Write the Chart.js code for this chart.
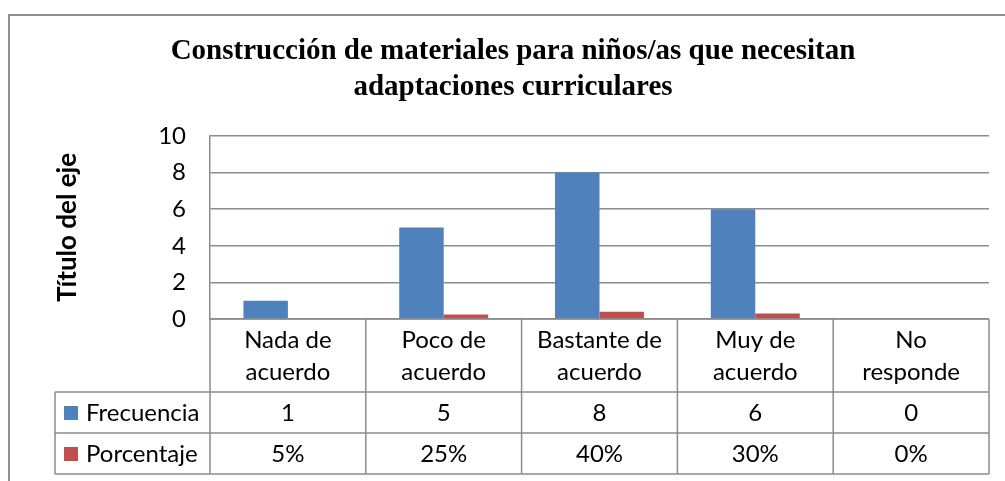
<!DOCTYPE html>
<html>
<head>
<meta charset="utf-8">
<script src="https://cdn.jsdelivr.net/npm/chart.js@4.4.1/dist/chart.umd.min.js"></script>
<style>
  html, body { margin: 0; padding: 0; background: #fff; }
  #wrap { width: 1005px; height: 481px; }
</style>
</head>
<body>
<div id="wrap"><canvas id="chart" width="1005" height="481"></canvas></div>
<script>
const titleLines = ["Construcción de materiales para niños/as que necesitan", "adaptaciones curriculares"];
const categories = [["Nada de", "acuerdo"], ["Poco de", "acuerdo"], ["Bastante de", "acuerdo"], ["Muy de", "acuerdo"], ["No", "responde"]];
const frecuencia = [1, 5, 8, 6, 0];
const porcentaje = [0.05, 0.25, 0.4, 0.3, 0];
const yTicks = [0, 2, 4, 6, 8, 10];

const BLUE = "#4F81BD";
const RED = "#C0504D";
const LINE = "#8C8C8C";
const FONT = "Lato, 'Open Sans', sans-serif";

// frame, title and the data table under the plot
const tablePlugin = {
  id: "excelTable",
  afterDraw: (chart) => {
    const ctx = chart.ctx;
    const x = chart.scales.x;
    const area = chart.chartArea;
    const colW = (area.right - area.left) / categories.length;
    const rowTop = area.bottom;
    const row1 = rowTop + 73;
    const row2 = row1 + 41;
    const row3 = row2 + 41;
    const legendLeft = 55;

    ctx.save();
    // outer frame
    ctx.strokeStyle = "#8f8f8f";
    ctx.lineWidth = 2;
    ctx.beginPath();
    ctx.moveTo(9, 490);
    ctx.lineTo(9, 15);
    ctx.lineTo(1010, 15);
    ctx.stroke();

    // title
    ctx.fillStyle = "#000";
    ctx.font = "bold 29px 'Liberation Serif', 'Times New Roman', serif";
    ctx.textAlign = "center";
    ctx.textBaseline = "middle";
    ctx.fillText(titleLines[0], 513, 52);
    ctx.fillText(titleLines[1], 513, 88);

    // table grid
    ctx.strokeStyle = LINE;
    ctx.lineWidth = 1.5;
    ctx.beginPath();
    [row1, row2, row3].forEach((y) => {
      ctx.moveTo(legendLeft, y);
      ctx.lineTo(area.right, y);
    });
    ctx.moveTo(area.left, rowTop);
    ctx.lineTo(area.right, rowTop);
    for (let i = 0; i <= categories.length; i++) {
      const cx = area.left + i * colW;
      ctx.moveTo(cx, rowTop);
      ctx.lineTo(cx, row3);
    }
    ctx.moveTo(legendLeft, row1);
    ctx.lineTo(legendLeft, row3);
    ctx.stroke();

    // category labels and values
    ctx.fillStyle = "#000";
    ctx.font = "24px " + FONT;
    ctx.textAlign = "center";
    categories.forEach((lines, i) => {
      const cx = x.getPixelForValue(i);
      ctx.fillText(lines[0], cx, rowTop + 21);
      ctx.fillText(lines[1], cx, rowTop + 53);
      ctx.fillText(String(frecuencia[i]), cx, row1 + 21);
      ctx.fillText(Math.round(porcentaje[i] * 100) + "%", cx, row2 + 21);
    });

    // legend keys
    ctx.textAlign = "left";
    chart.data.datasets.forEach((ds, i) => {
      const y = row1 + i * 41 + 21;
      ctx.fillStyle = ds.backgroundColor;
      ctx.fillRect(64, y - 7, 14, 14);
      ctx.fillStyle = "#000";
      ctx.fillText(ds.label, 86, y);
    });
    ctx.restore();
  },
};

const ctx = document.getElementById("chart").getContext("2d");
new Chart(ctx, {
  type: "bar",
  data: {
    labels: categories.map((c) => c.join(" ")),
    datasets: [
      { label: "Frecuencia", data: frecuencia, backgroundColor: BLUE },
      { label: "Porcentaje", data: porcentaje, backgroundColor: RED },
    ],
  },
  options: {
    responsive: false,
    animation: false,
    layout: {
      padding: { left: 10, right: 16, top: 136, bottom: 162 },
    },
    datasets: {
      bar: { categoryPercentage: 0.571, barPercentage: 1 },
    },
    scales: {
      x: { display: false },
      y: {
        min: 0,
        max: 10,
        afterFit: (scale) => { scale.width = 200; },
        afterBuildTicks: (scale) => { scale.ticks = yTicks.map((v) => ({ value: v })); },
        ticks: {
          color: "#000",
          padding: 24,
          font: { family: FONT, size: 24 },
        },
        grid: { color: LINE, lineWidth: 1.5, drawTicks: false },
        border: { color: LINE, width: 1.5 },
        title: {
          display: true,
          text: "Título del eje",
          color: "#000",
          font: { family: FONT, size: 26, weight: "bold" },
          padding: { top: 42, bottom: 0 },
        },
      },
    },
    plugins: {
      legend: { display: false },
      title: { display: false },
      tooltip: { enabled: false },
    },
  },
  plugins: [tablePlugin],
});
</script>
</body>
</html>
